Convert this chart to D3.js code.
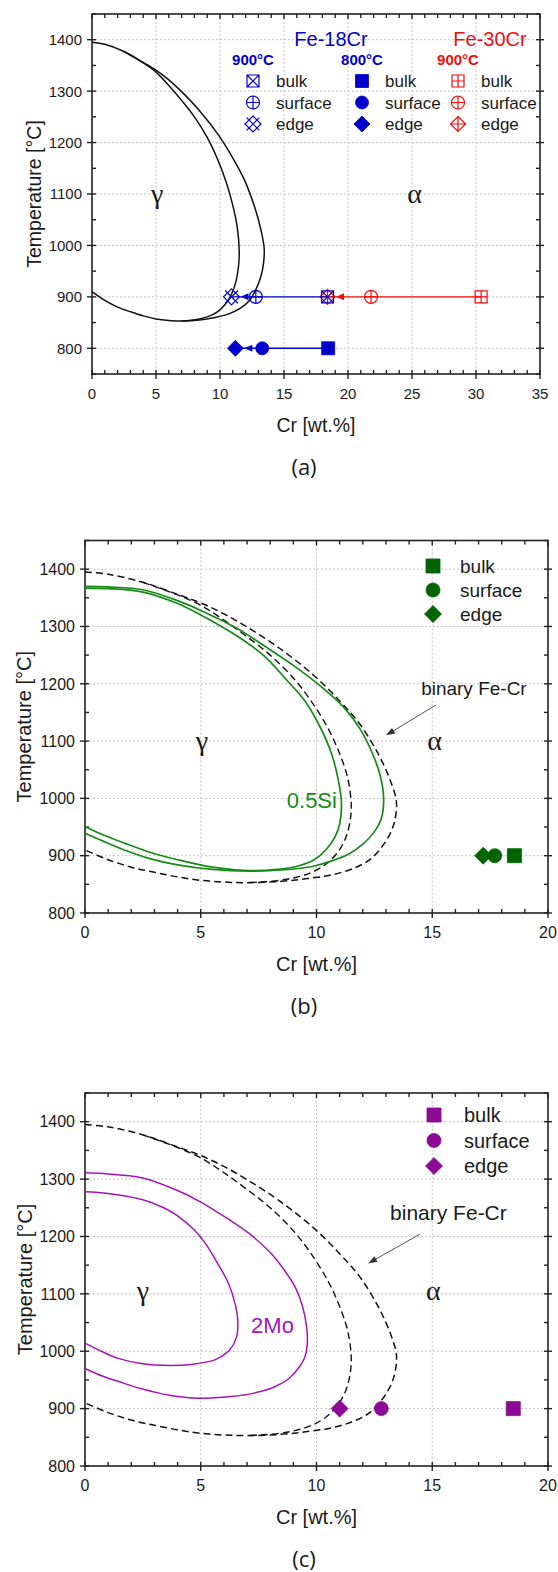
<!DOCTYPE html>
<html>
<head>
<meta charset="utf-8">
<script src="https://cdn.jsdelivr.net/npm/d3@7"></script>
<style>
  body { margin: 0; background: #fff; }
  svg { display: block; }
  text { font-family: "Liberation Sans", Arial, sans-serif; fill: #1a1a1a; }
  text.phase { font-family: "Liberation Serif", "Times New Roman", serif; }
  text.letter { font-family: "Open Sans", "Noto Sans", sans-serif; }
</style>
</head>
<body>
<svg id="fig" width="558" height="1572"></svg>
<script>
// ---------------- data ----------------
// binary Fe-Cr gamma loop (Cr wt.%, T °C): outer = (gamma+alpha)/alpha boundary,
// inner = gamma/(gamma+alpha) boundary, which branches off the outer one
const binaryOuter = [[0,1395],[1,1391],[2.5,1377],[4,1356],[5,1341],[6,1322],[7,1299],[8.4,1262],[9.9,1214],[11,1170],[11.9,1128],[12.7,1075],[13.2,1030],[13.45,995],[13.4,965],[13.2,940],[12.8,914],[12.3,893],[11.6,878],[10.7,867],[9.6,860],[8.4,855],[7,853],[6,854],[5,857],[4,863],[3,871],[2,880],[1,893],[0,910]];
const binaryInner = [[2.5,1377],[4,1355],[5,1337],[6,1311],[7,1282],[8,1250],[9,1210],[9.8,1168],[10.5,1122],[11,1078],[11.35,1035],[11.5,990],[11.45,960],[11.25,930],[10.9,905],[10.4,885],[9.8,871],[9.1,862],[8.4,857],[7.6,854],[7,853]];
// Fe-Cr + 0.5Si
const si05Outer = [[0,1370],[1,1369],[2.5,1364],[4,1345],[5,1328],[6.5,1298],[7.9,1262],[9,1232],[10.2,1195],[11.2,1158],[11.9,1120],[12.4,1080],[12.75,1040],[12.9,1000],[12.8,965],[12.5,942],[12,920],[11.4,903],[10.6,890],[9.9,882],[8.5,875],[7.1,873],[5.5,876],[4,884],[2.8,895],[1.7,910],[0.8,925],[0,939]];
const si05Inner = [[0,1367],[1,1366],[2.5,1360],[4,1340],[5,1320],[6.5,1285],[7.7,1250],[8.7,1207],[9.5,1170],[10.15,1125],[10.65,1078],[10.95,1030],[11.08,990],[11,955],[10.8,933],[10.4,910],[9.9,893],[9.2,882],[8.3,876],[7.1,874],[5.5,880],[4,893],[2.8,906],[1.7,922],[0.8,936],[0,951]];
// Fe-Cr + 2Mo
const mo2Outer = [[0,1311],[1,1309],[2.5,1302],[4,1280],[5,1260],[6.2,1230],[7.1,1205],[8,1172],[8.6,1142],[9.1,1110],[9.4,1078],[9.58,1040],[9.6,1012],[9.5,990],[9.25,972],[8.8,952],[8.2,938],[7.3,927],[6.3,921],[4.9,918],[4,921],[3.2,927],[2.4,935],[1.7,944],[0.8,956],[0,970]];
const mo2Inner = [[0,1278],[1,1275],[2.5,1264],[3.4,1250],[4,1236],[4.7,1212],[5.2,1188],[5.7,1155],[6.2,1118],[6.5,1080],[6.6,1054],[6.55,1025],[6.25,1002],[5.9,991],[5.55,984],[4.6,977],[3.7,975],[2.5,978],[1.4,988],[0.7,1000],[0,1014]];

// measured Cr contents at bulk / surface / edge
const positions = ["bulk", "surface", "edge"];
const fe18Cr900 = [18.4, 12.8, 10.9];
const fe18Cr800 = [18.45, 13.3, 11.2];
const fe30Cr900 = [30.4, 21.8, 18.4];
const fe18CrSi900 = [18.55, 17.7, 17.2];
const fe18CrMo900 = [18.5, 12.8, 11.0];

// axis ticks
const crTicks35 = [0, 5, 10, 15, 20, 25, 30, 35];
const crTicks20 = [0, 5, 10, 15, 20];
const tempTicksA = [800, 900, 1000, 1100, 1200, 1300, 1400];
const tempTicksBC = [800, 900, 1000, 1100, 1200, 1300, 1400];

// ---------------- drawing helpers ----------------
const svg = d3.select("#fig");
const BLUE = "#0000cc", RED = "#f20d0d", GREEN_LINE = "#168a16", GREEN_MARK = "#006400",
      PURPLE_LINE = "#a414b8", PURPLE_MARK = "#8c0a94";

function symbolPath(kind, s) {
  const sq = `M${-s},${-s}H${s}V${s}H${-s}Z`;
  const ci = `M${s},0A${s},${s} 0 1,1 ${-s},0A${s},${s} 0 1,1 ${s},0Z`;
  const di = `M0,${-s}L${s},0L0,${s}L${-s},0Z`;
  const plus = `M${-s},0H${s}M0,${-s}V${s}`;
  const k = s * 0.8;
  const cross = `M${-s},${-s}L${s},${s}M${s},${-s}L${-s},${s}`;
  const crossK = `M${-k},${-k}L${k},${k}M${k},${-k}L${-k},${k}`;
  switch (kind) {
    case "square": return sq;
    case "circle": return ci;
    case "diamond": return di;
    case "squareX": return sq + cross;
    case "squarePlus": return sq + plus;
    case "circlePlus": return ci + plus;
    case "diamondPlus": return di + plus;
    case "diamondX": return di + crossK;
  }
}

function marker(g, kind, cx, cy, s, color, filled) {
  g.append("path")
    .attr("d", symbolPath(kind, s))
    .attr("transform", `translate(${cx},${cy})`)
    .attr("fill", filled ? color : "none")
    .attr("stroke", color)
    .attr("stroke-width", filled ? 0.8 : 1.2);
}

function makePanel(cfg) {
  const x = d3.scaleLinear().domain([0, cfg.xMax]).range([cfg.left, cfg.right]);
  const y = d3.scaleLinear().domain([cfg.yMin, cfg.yMax]).range([cfg.bottom, cfg.top]);
  const g = svg.append("g");

  // dotted grid at major ticks
  const grid = g.append("g").attr("stroke", "#c4c4c4").attr("stroke-width", 1).attr("stroke-dasharray", "2,2");
  cfg.xTicks.filter(v => v > 0 && v < cfg.xMax).forEach(v =>
    grid.append("line").attr("x1", x(v)).attr("x2", x(v)).attr("y1", cfg.top).attr("y2", cfg.bottom));
  cfg.yTicks.filter(v => v > cfg.yMin && v < cfg.yMax).forEach(v =>
    grid.append("line").attr("x1", cfg.left).attr("x2", cfg.right).attr("y1", y(v)).attr("y2", y(v)));

  // frame
  g.append("rect").attr("x", cfg.left).attr("y", cfg.top)
    .attr("width", cfg.right - cfg.left).attr("height", cfg.bottom - cfg.top)
    .attr("fill", "none").attr("stroke", "#222").attr("stroke-width", 1.6);

  // ticks: majors cross the axis line, minors point inward
  const tk = g.append("g").attr("stroke", "#222").attr("stroke-width", 1.4);
  const xMinor = d3.range(0, cfg.xMax + 0.001, 1);
  const yMinor = d3.range(cfg.yMin, cfg.yMax + 0.001, 50);
  xMinor.forEach(v => {
    const major = cfg.xTicks.includes(v);
    tk.append("line").attr("x1", x(v)).attr("x2", x(v)).attr("y1", cfg.bottom + (major ? 5 : 0)).attr("y2", cfg.bottom - 4);
    tk.append("line").attr("x1", x(v)).attr("x2", x(v)).attr("y1", cfg.top).attr("y2", cfg.top + (major ? 5 : 4));
  });
  yMinor.forEach(v => {
    const major = cfg.yTicks.includes(v);
    tk.append("line").attr("y1", y(v)).attr("y2", y(v)).attr("x1", cfg.left - (major ? 5 : 0)).attr("x2", cfg.left + 4);
    tk.append("line").attr("y1", y(v)).attr("y2", y(v)).attr("x1", cfg.right + (major ? 4 : 0)).attr("x2", cfg.right - 4);
  });

  // tick labels
  cfg.xTicks.forEach(v => g.append("text").attr("x", x(v)).attr("y", cfg.bottom + 25)
    .attr("text-anchor", "middle").attr("font-size", cfg.tickFont).text(v));
  cfg.yTicks.forEach(v => g.append("text").attr("x", cfg.left - 10).attr("y", y(v)).attr("dy", "0.36em")
    .attr("text-anchor", "end").attr("font-size", cfg.tickFont).text(v));

  // axis titles
  g.append("text").attr("x", (cfg.left + cfg.right) / 2).attr("y", cfg.bottom + 58)
    .attr("text-anchor", "middle").attr("font-size", cfg.titleFont).text("Cr [wt.%]");
  g.append("text").attr("transform", `translate(${cfg.yTitleX},${(cfg.top + cfg.bottom) / 2}) rotate(-90)`)
    .attr("text-anchor", "middle").attr("dy", "0.36em").attr("font-size", cfg.titleFont).text("Temperature [°C]");
  // panel letter
  g.append("text").attr("class", "letter").attr("x", 304).attr("y", cfg.bottom + 101)
    .attr("text-anchor", "middle").attr("font-size", 22).text(cfg.letter);

  // phase labels
  g.append("text").attr("class", "phase").attr("x", x(cfg.gammaAt[0])).attr("y", y(cfg.gammaAt[1]))
    .attr("font-size", 28).attr("text-anchor", "middle").text("γ");
  g.append("text").attr("class", "phase").attr("x", x(cfg.alphaAt[0])).attr("y", y(cfg.alphaAt[1]))
    .attr("font-size", 28).attr("text-anchor", "middle").text("α");

  return { g, x, y };
}

function loop(p, data, color, width, dash) {
  const line = d3.line().x(d => p.x(d[0])).y(d => p.y(d[1])).curve(d3.curveCatmullRom.alpha(0.5));
  p.g.append("path").attr("d", line(data)).attr("fill", "none")
    .attr("stroke", color).attr("stroke-width", width)
    .attr("stroke-dasharray", dash || null);
}

// connecting line with a small arrow pointing toward the edge value
function series(p, values, temp, color, kinds, size, filled) {
  const yy = p.y(temp);
  const xs = values.map(v => p.x(v));
  p.g.append("path").attr("d", d3.line()(xs.map(xv => [xv, yy])))
    .attr("fill", "none").attr("stroke", color).attr("stroke-width", 1.4);
  const tip = xs[2] + size[2] + 1;
  p.g.append("path").attr("d", `M${tip},${yy}L${tip + 8},${yy - 3.5}L${tip + 8},${yy + 3.5}Z`)
    .attr("fill", color);
  values.forEach((v, i) => marker(p.g, kinds[i], p.x(v), yy, size[i], color, filled));
}

function arrow(p, from, to) {
  const x1 = p.x(from[0]), y1 = p.y(from[1]), x2 = p.x(to[0]), y2 = p.y(to[1]);
  const ang = Math.atan2(y2 - y1, x2 - x1);
  p.g.append("line").attr("x1", x1).attr("y1", y1).attr("x2", x2 - 6 * Math.cos(ang)).attr("y2", y2 - 6 * Math.sin(ang))
    .attr("stroke", "#555").attr("stroke-width", 1);
  const L = 9, W = 3.2;
  const bx = x2 - L * Math.cos(ang), by = y2 - L * Math.sin(ang);
  p.g.append("path").attr("d",
    `M${x2},${y2}L${bx - W * Math.sin(ang)},${by + W * Math.cos(ang)}L${bx + W * Math.sin(ang)},${by - W * Math.cos(ang)}Z`)
    .attr("fill", "#333");
}

// ---------------- panel (a): Fe-18Cr and Fe-30Cr ----------------
const pa = makePanel({ left: 92, right: 540, top: 14, bottom: 374, xMax: 35, yMin: 750, yMax: 1450,
  xTicks: crTicks35, yTicks: tempTicksA, tickFont: 15, titleFont: 19.5, yTitleX: 34, letter: "(a)",
  gammaAt: [5.1, 1083], alphaAt: [25.2, 1083] });
loop(pa, binaryOuter, "#111", 1.5);
loop(pa, binaryInner, "#111", 1.5);

series(pa, fe30Cr900, 900, RED, ["squarePlus", "circlePlus", "diamondPlus"], [6, 6.5, 7.5], false);
series(pa, fe18Cr900, 900, BLUE, ["squareX", "circlePlus", "diamondX"], [6, 6.5, 8], false);
series(pa, fe18Cr800, 800, BLUE, ["square", "circle", "diamond"], [6.5, 6.5, 8], true);

// legend of panel (a)
const legA = pa.g.append("g");
legA.append("text").attr("x", 331).attr("y", 46).attr("text-anchor", "middle").attr("font-size", 20)
  .style("fill", BLUE).text("Fe-18Cr");
legA.append("text").attr("x", 490).attr("y", 46).attr("text-anchor", "middle").attr("font-size", 20)
  .style("fill", RED).text("Fe-30Cr");
const legCols = [
  { x: 253, head: "900°C", color: BLUE, kinds: ["squareX", "circlePlus", "diamondX"], filled: false, size: [6, 6.5, 8] },
  { x: 362, head: "800°C", color: BLUE, kinds: ["square", "circle", "diamond"], filled: true, size: [6.5, 6.5, 8] },
  { x: 458, head: "900°C", color: RED, kinds: ["squarePlus", "circlePlus", "diamondPlus"], filled: false, size: [6, 6.5, 7.5] }
];
const legRowsA = [81, 102.5, 124];
legCols.forEach(c => {
  legA.append("text").attr("x", c.x).attr("y", 64.5).attr("text-anchor", "middle").attr("font-size", 15)
    .attr("font-weight", "bold").style("fill", c.color).text(c.head);
  positions.forEach((name, i) => {
    marker(legA, c.kinds[i], c.x, legRowsA[i], c.size[i], c.color, c.filled);
    legA.append("text").attr("x", c.x + 23).attr("y", legRowsA[i]).attr("dy", "0.36em")
      .attr("font-size", 17).text(name);
  });
});

// ---------------- panel (b): effect of 0.5 Si ----------------
const pb = makePanel({ left: 85, right: 548, top: 540.5, bottom: 913, xMax: 20, yMin: 800, yMax: 1450,
  xTicks: crTicks20, yTicks: tempTicksBC, tickFont: 16, titleFont: 20, yTitleX: 24, letter: "(b)",
  gammaAt: [5.05, 1085], alphaAt: [15.1, 1085] });
loop(pb, binaryOuter, "#111", 1.5, "7,4");
loop(pb, binaryInner, "#111", 1.4, "7,4");
loop(pb, si05Outer, GREEN_LINE, 1.7);
loop(pb, si05Inner, GREEN_LINE, 1.7);
pb.g.append("text").attr("x", pb.x(9.8)).attr("y", pb.y(983)).attr("text-anchor", "middle")
  .attr("font-size", 22).style("fill", GREEN_LINE).text("0.5Si");
pb.g.append("text").attr("x", pb.x(16.8)).attr("y", pb.y(1181)).attr("text-anchor", "middle")
  .attr("font-size", 19).text("binary Fe-Cr");
arrow(pb, [15.16, 1163], [13.0, 1110]);
const symB = ["square", "circle", "diamond"];
fe18CrSi900.forEach((v, i) => marker(pb.g, symB[i], pb.x(v), pb.y(900), [7, 7, 8.5][i], GREEN_MARK, true));
[566, 590, 614].forEach((ry, i) => {
  marker(pb.g, symB[i], 433, ry, [7, 7, 8.5][i], GREEN_MARK, true);
  pb.g.append("text").attr("x", 460).attr("y", ry).attr("dy", "0.36em").attr("font-size", 19).text(positions[i]);
});

// ---------------- panel (c): effect of 2 Mo ----------------
const pc = makePanel({ left: 85, right: 548, top: 1093, bottom: 1466, xMax: 20, yMin: 800, yMax: 1450,
  xTicks: crTicks20, yTicks: tempTicksBC, tickFont: 16, titleFont: 20, yTitleX: 25, letter: "(c)",
  gammaAt: [2.5, 1089], alphaAt: [15.05, 1089] });
loop(pc, binaryOuter, "#111", 1.5, "7,4");
loop(pc, binaryInner, "#111", 1.4, "7,4");
loop(pc, mo2Outer, PURPLE_LINE, 1.5);
loop(pc, mo2Inner, PURPLE_LINE, 1.5);
pc.g.append("text").attr("x", pc.x(8.1)).attr("y", pc.y(1032)).attr("text-anchor", "middle")
  .attr("font-size", 22).style("fill", PURPLE_LINE).text("2Mo");
pc.g.append("text").attr("x", pc.x(15.7)).attr("y", pc.y(1229)).attr("text-anchor", "middle")
  .attr("font-size", 21).text("binary Fe-Cr");
arrow(pc, [14.47, 1204], [12.23, 1153]);
fe18CrMo900.forEach((v, i) => marker(pc.g, symB[i], pc.x(v), pc.y(900), [7, 7, 8.5][i], PURPLE_MARK, true));
[1115, 1140.5, 1166].forEach((ry, i) => {
  marker(pc.g, symB[i], 434, ry, [7, 7, 8.5][i], PURPLE_MARK, true);
  pc.g.append("text").attr("x", 464).attr("y", ry).attr("dy", "0.36em").attr("font-size", 20).text(positions[i]);
});
</script>
</body>
</html>
